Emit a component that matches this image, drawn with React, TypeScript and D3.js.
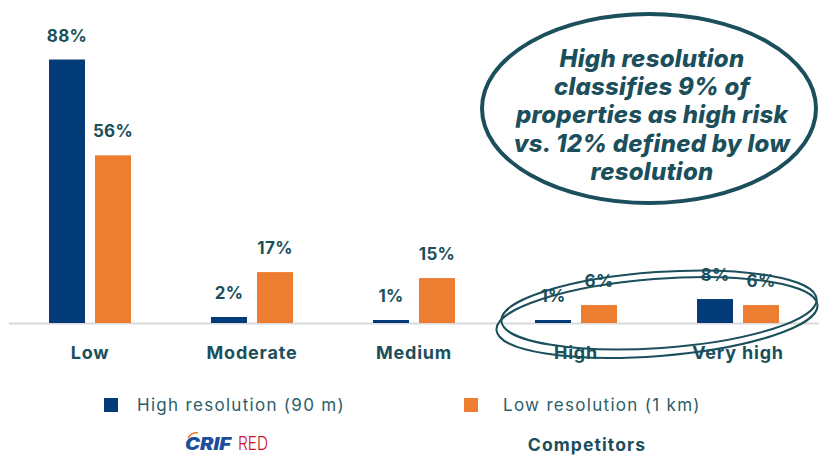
import React from "react";
import * as d3 from "d3";

// Share of properties per risk class, by model resolution (%)
const categories = ["Low", "Moderate", "Medium", "High", "Very high"];
const highRes = [88, 2, 1, 1, 8];
const lowRes = [56, 17, 15, 6, 6];
const seriesNames = ["High resolution (90 m)", "Low resolution (1 km)"];
const calloutLines = [
  "High resolution",
  "classifies 9% of",
  "properties as high risk",
  "vs. 12% defined by low",
  "resolution",
];

const W = 819;
const H = 455;
const BLUE = "#023B78";
const ORANGE = "#ED7D31";
const TEAL = "#1B4F5B";
const FONT = "Inter, 'Open Sans', sans-serif";

export default function App() {
  const baseline = 323;
  const x0 = d3.scaleBand<string>().domain(categories).range([9, 819]).paddingInner(0).paddingOuter(0);
  const barW = 36;
  const gap = 10;
  const y = d3.scaleLinear().domain([0, 88]).range([baseline, 59.5]);
  const groupW = barW * 2 + gap;
  const groupLeft = (c: string) => (x0(c) as number) + (x0.bandwidth() - groupW) / 2;

  const series = [
    { values: highRes, color: BLUE, offset: 0 },
    { values: lowRes, color: ORANGE, offset: barW + gap },
  ];

  return (
    <svg width={W} height={H} style={{ position: "absolute", left: 0, top: 0, background: "#fff" }}>
      {/* baseline */}
      <line x1={9} x2={819} y1={baseline + 0.5} y2={baseline + 0.5} stroke="#d9d9d9" strokeWidth={2} />

      {series.map((s, si) =>
        s.values.map((v, i) => {
          const c = categories[i];
          const bx = groupLeft(c) + s.offset;
          return (
            <g key={`${si}-${i}`}>
              <rect x={bx} y={y(v)} width={barW} height={baseline - y(v)} fill={s.color} />
              <text
                x={bx + barW / 2}
                y={y(v) - 18}
                textAnchor="middle"
                fontFamily={FONT}
                fontWeight={700}
                fontSize={17}
                style={{ letterSpacing: "0.3px" }}
                fill={TEAL}
              >
                {v}%
              </text>
            </g>
          );
        })
      )}

      {categories.map((c) => (
        <text
          key={c}
          x={groupLeft(c) + groupW / 2}
          y={359}
          textAnchor="middle"
          fontFamily={FONT}
          fontWeight={700}
          fontSize={18}
          style={{ letterSpacing: "0.8px" }}
          fill={TEAL}
        >
          {c}
        </text>
      ))}

      {/* double loop around the high-risk classes */}
      <ellipse cx={657} cy={317.5} rx={161} ry={38.5} transform="rotate(-4.5 657 317.5)" fill="none" stroke={TEAL} strokeWidth={2} />
      <ellipse cx={659} cy={310} rx={158} ry={38} transform="rotate(-4 659 310)" fill="none" stroke={TEAL} strokeWidth={2} />

      {/* callout */}
      <ellipse cx={649} cy={108.5} rx={167} ry={94.5} fill="none" stroke={TEAL} strokeWidth={4} />
      {calloutLines.map((t, i) => (
        <text
          key={i}
          x={652}
          y={66.5 + i * 28.4}
          textAnchor="middle"
          fontFamily={FONT}
          fontWeight={800}
          fontStyle="italic"
          fontSize={24}
          style={{ letterSpacing: "0.25px" }}
          fill={TEAL}
        >
          {t}
        </text>
      ))}

      {/* legend */}
      <rect x={104} y={398} width={14} height={14} fill={BLUE} />
      <text x={137} y={411} fontFamily={FONT} fontSize={17} style={{ letterSpacing: "1.3px" }} fill="#2C5E69">
        {seriesNames[0]}
      </text>
      <rect x={464} y={398} width={14} height={14} fill={ORANGE} />
      <text x={503} y={411} fontFamily={FONT} fontSize={17} style={{ letterSpacing: "1.3px" }} fill="#2C5E69">
        {seriesNames[1]}
      </text>

      {/* footer logos */}
      <path d="M188 438 q4 -6 10 -5" fill="none" stroke={ORANGE} strokeWidth={1.5} />
      <text
        x={185}
        y={450}
        fontFamily={FONT}
        fontWeight={900}
        fontStyle="italic"
        fontSize={17}
        textLength={46}
        lengthAdjust="spacingAndGlyphs"
        fill="#1D4E9A"
      >
        CRIF
      </text>
      <text
        x={238}
        y={450}
        fontFamily={FONT}
        fontWeight={300}
        fontSize={19}
        textLength={30}
        lengthAdjust="spacingAndGlyphs"
        fill="#C8102E"
      >
        RED
      </text>
      <text x={587} y={451} textAnchor="middle" fontFamily={FONT} fontWeight={700} fontSize={17.5} style={{ letterSpacing: "1.1px" }} fill={TEAL}>
        Competitors
      </text>
    </svg>
  );
}
